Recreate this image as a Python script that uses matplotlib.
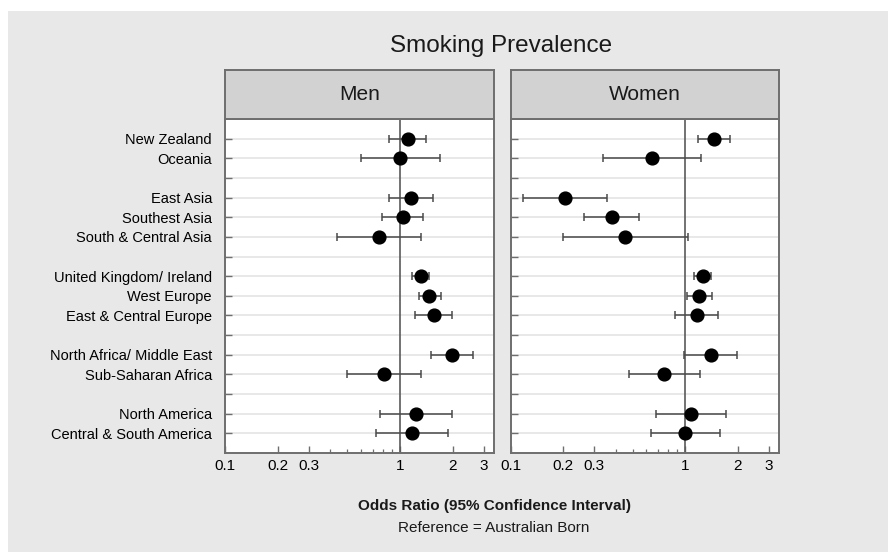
import numpy as np
import matplotlib
matplotlib.use("Agg")
import matplotlib.pyplot as plt
from matplotlib.patches import Rectangle
from matplotlib.ticker import FixedLocator, NullFormatter

plt.rcParams["font.family"] = ["Liberation Sans", "DejaVu Sans"]

# Regions of birth, grouped (a blank row separates consecutive groups)
regions = ["New Zealand", "Oceania",
           "East Asia", "Southest Asia", "South & Central Asia",
           "United Kingdom/ Ireland", "West Europe", "East & Central Europe",
           "North Africa/ Middle East", "Sub-Saharan Africa",
           "North America", "Central & South America"]
groups = [0, 0, 1, 1, 1, 2, 2, 2, 3, 3, 4, 4]

# Odds ratios with 95% confidence limits
men_or = [1.11, 1.00, 1.15, 1.04, 0.76, 1.31, 1.47, 1.56, 1.98, 0.81, 1.23, 1.17]
men_lo = [0.865, 0.60, 0.86, 0.79, 0.436, 1.17, 1.28, 1.22, 1.51, 0.50, 0.77, 0.73]
men_hi = [1.41, 1.69, 1.54, 1.36, 1.31, 1.46, 1.71, 1.98, 2.60, 1.32, 1.98, 1.88]

women_or = [1.46, 0.645, 0.206, 0.381, 0.454, 1.26, 1.20, 1.17, 1.40, 0.755, 1.08, 1.00]
women_lo = [1.18, 0.338, 0.118, 0.265, 0.20, 1.12, 1.03, 0.877, 0.987, 0.475, 0.683, 0.637]
women_hi = [1.80, 1.23, 0.358, 0.544, 1.036, 1.40, 1.43, 1.55, 1.97, 1.21, 1.72, 1.585]

panels = ["Men", "Women"]
major_ticks = [0.1, 0.2, 0.3, 1, 2, 3]
major_labels = ["0.1", "0.2", "0.3", "1", "2", "3"]
minor_ticks = [0.4, 0.5, 0.6, 0.7, 0.8, 0.9]

W, H = 888, 552
fig = plt.figure(figsize=(W / 100, H / 100), dpi=100)
fig.patch.set_facecolor("white")
fig.patches.append(Rectangle((8 / W, 0), 1, (H - 11) / H, transform=fig.transFigure,
                             facecolor="#e8e8e8", edgecolor="none", zorder=-10))

rows = [i + g for i, g in enumerate(groups)]
n_rows = max(rows) + 1
border = "#6e6e6e"

def px_box(x0, x1, ytop, ybot):
    return [x0 / W, 1 - ybot / H, (x1 - x0) / W, (ybot - ytop) / H]

lefts = [(225, 494), (510.5, 779)]
data = [(men_or, men_lo, men_hi), (women_or, women_lo, women_hi)]

for k, ((x0, x1), (orv, lo, hi)) in enumerate(zip(lefts, data)):
    ax = fig.add_axes(px_box(x0, x1, 119, 453))
    ax.set_facecolor("white")
    ax.set_xscale("log")
    ax.set_xlim(0.1, 3.44)
    ax.set_ylim(n_rows, -1)

    for r in range(n_rows):
        ax.axhline(r, color="#e4e4e4", lw=1.2, zorder=1)
    ax.axvline(1, color="#5a5a5a", lw=1.2, zorder=2)

    orv = np.array(orv)
    err = np.vstack([orv - np.array(lo), np.array(hi) - orv])
    ax.errorbar(orv, rows, xerr=err, fmt="none", ecolor="#4a4a4a",
                elinewidth=1.1, capsize=3, capthick=1.1, zorder=3)
    ax.plot(orv, rows, "o", color="black", markersize=9.2, zorder=4)

    ax.xaxis.set_major_locator(FixedLocator(major_ticks))
    ax.set_xticklabels(major_labels)
    ax.xaxis.set_minor_locator(FixedLocator(minor_ticks))
    ax.xaxis.set_minor_formatter(NullFormatter())
    ax.tick_params(axis="x", which="major", direction="in", length=5, width=1,
                   color="#6e6e6e", labelsize=11, pad=4)
    ax.tick_params(axis="x", which="minor", direction="in", length=2.8, width=0.9,
                   color="#6e6e6e")

    ax.set_yticks(range(n_rows))
    labels = [""] * n_rows
    if k == 0:
        for r, name in zip(rows, regions):
            labels[r] = name
    ax.set_yticklabels(labels)
    ax.tick_params(axis="y", direction="in", length=5, width=1, color="#6e6e6e",
                   labelsize=10.5, pad=9.4)

    for s in ax.spines.values():
        s.set_color(border)
        s.set_linewidth(1.4)

    strip = fig.add_axes(px_box(x0, x1, 69.5, 119))
    strip.set_facecolor("#d2d2d2")
    strip.set_xticks([])
    strip.set_yticks([])
    for s in strip.spines.values():
        s.set_color(border)
        s.set_linewidth(1.4)
    strip.text(0.5, 0.5, panels[k], ha="center", va="center", fontsize=15,
               color="#1a1a1a", transform=strip.transAxes)

fig.text(501.5 / W, 1 - 46 / H, "Smoking Prevalence", ha="center", va="center",
         fontsize=17.5, color="#1a1a1a")
fig.text(494 / W, 1 - 506 / H, "Odds Ratio (95% Confidence Interval)", ha="center",
         va="center", fontsize=11, fontweight="bold", color="#1a1a1a")
fig.text(494 / W, 1 - 528 / H, "Reference = Australian Born", ha="center",
         va="center", fontsize=11, color="#1a1a1a")

fig.savefig("out.png", dpi=100)
